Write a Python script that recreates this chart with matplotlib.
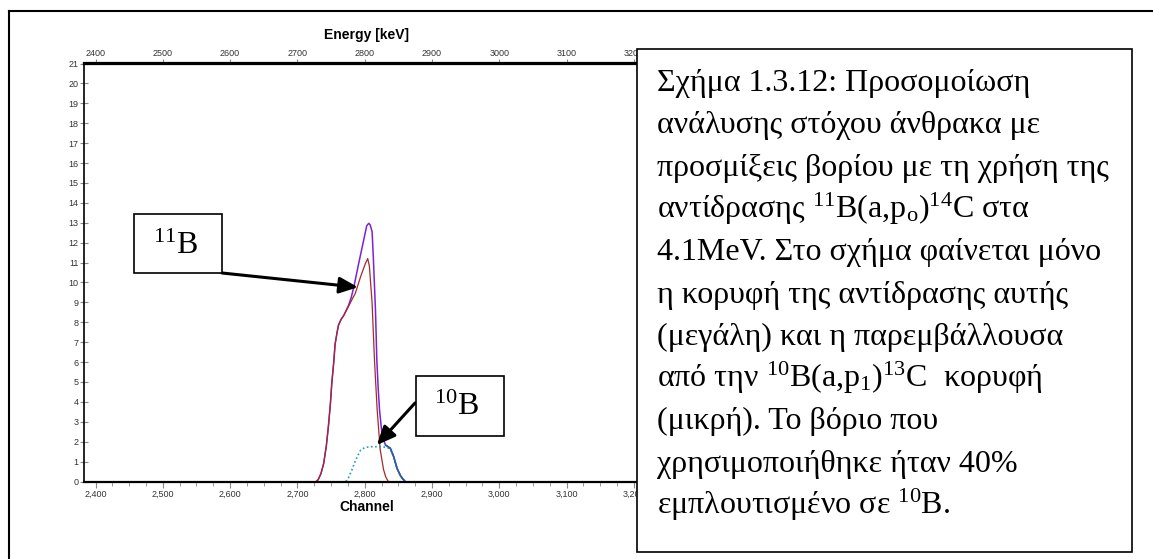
import matplotlib
matplotlib.use("Agg")
import matplotlib.pyplot as plt
from matplotlib.patches import Rectangle
from matplotlib.lines import Line2D
from matplotlib.ticker import MultipleLocator, FuncFormatter

plt.rcParams["font.family"] = ["Liberation Sans Narrow", "Liberation Sans", "DejaVu Sans"]
plt.rcParams["mathtext.fontset"] = "custom"
plt.rcParams["mathtext.rm"] = "Liberation Serif"
plt.rcParams["mathtext.it"] = "Liberation Serif:italic"
plt.rcParams["mathtext.bf"] = "Liberation Serif:bold"

# simulated spectrum (channel, counts)
total_ch = [2728, 2731, 2735, 2739, 2743, 2746, 2749, 2751, 2754, 2756, 2759, 2761, 2765, 2769,
            2776, 2780, 2784, 2791, 2798, 2803, 2806, 2808, 2811, 2813, 2816, 2818, 2820,
            2822, 2826, 2831, 2838, 2843, 2848, 2853, 2856, 2859]
total_cnt = [0.0, 0.1, 0.4, 0.9, 1.8, 2.75, 3.9, 4.9, 6.0, 6.9, 7.5, 7.85, 8.15, 8.35,
             8.85, 9.25, 9.8, 10.95, 12.05, 12.85, 12.97, 12.9, 12.55, 11.1, 8.6, 6.1, 4.7,
             3.6, 2.25, 1.83, 1.67, 1.25, 0.66, 0.3, 0.15, 0.05]

b11_ch = [2728, 2731, 2735, 2739, 2743, 2746, 2749, 2751, 2754, 2756, 2759, 2761, 2765, 2769,
          2776, 2782, 2786, 2794, 2801, 2804.5, 2807, 2811, 2814.5, 2818.5, 2823, 2828, 2831, 2835]
b11_cnt = [0.0, 0.1, 0.4, 0.9, 1.8, 2.75, 3.9, 4.9, 6.0, 6.9, 7.5, 7.85, 8.15, 8.35,
           8.8, 9.2, 9.45, 10.3, 10.95, 11.2, 10.8, 8.95, 6.1, 3.6, 1.6, 0.6, 0.25, 0.0]

b10_ch = [2772, 2776, 2781, 2785, 2789, 2794, 2800, 2806, 2812, 2818, 2825, 2831, 2838,
          2843, 2848, 2853, 2859]
b10_cnt = [0.0, 0.2, 0.58, 0.95, 1.25, 1.58, 1.7, 1.74, 1.75, 1.75, 1.74, 1.72, 1.65,
           1.25, 0.66, 0.3, 0.05]

tail_start = 2831

caption_lines = [
    "Σχήμα 1.3.12: Προσομοίωση",
    "ανάλυσης στόχου άνθρακα με",
    "προσμίξεις βορίου με τη χρήση της",
    "αντίδρασης $^{11}$B(a,p$_{\\mathrm{o}}$)$^{14}$C στα",
    "4.1MeV. Στο σχήμα φαίνεται μόνο",
    "η κορυφή της αντίδρασης αυτής",
    "(μεγάλη) και η παρεμβάλλουσα",
    "από την $^{10}$B(a,p$_{1}$)$^{13}$C  κορυφή",
    "(μικρή). Το βόριο που",
    "χρησιμοποιήθηκε ήταν 40%",
    "εμπλουτισμένο σε $^{10}$B.",
]

W, H = 1153, 559


def fx(x):
    return x / W


def fy(y):
    return 1 - y / H


fig = plt.figure(figsize=(W / 100, H / 100), dpi=100)
ax = fig.add_axes([fx(84), fy(481.5), fx(650) - fx(84), fy(63.5) - fy(481.5)])

ax.plot(total_ch, total_cnt, color="#7B22D8", lw=1.1)
ax.plot(b11_ch, b11_cnt, color="#A52A2A", lw=0.9)
ax.plot(b10_ch, b10_cnt, color="#22A0A8", lw=1.2, ls=(0, (1, 1.5)))
tail_ch = [c for c in total_ch if c >= tail_start]
tail_cnt = [v for c, v in zip(total_ch, total_cnt) if c >= tail_start]
ax.plot(tail_ch, tail_cnt, color="#2C5FA0", lw=1.2)

ax.set_xlim(2382.9, 3223.9)
ax.set_ylim(0, 21)

ax.spines["right"].set_visible(False)
ax.spines["left"].set_linewidth(1.2)
ax.spines["bottom"].set_linewidth(1.6)
ax.spines["top"].set_linewidth(1.6)

ax.yaxis.set_major_locator(MultipleLocator(1))
ax.tick_params(axis="y", direction="inout", length=6, width=0.8, color="#888888",
               labelsize=6.5, labelcolor="#333333", pad=1)
ax.xaxis.set_major_locator(MultipleLocator(100))
ax.xaxis.set_minor_locator(MultipleLocator(25))
ax.xaxis.set_major_formatter(FuncFormatter(lambda v, p: f"{v:,.0f}"))
ax.tick_params(axis="x", which="major", direction="out", length=4, width=0.8,
               color="#888888", labelsize=6.5, labelcolor="#333333", pad=2)
ax.tick_params(axis="x", which="minor", direction="out", length=3, width=0.6, color="#888888")
ax.set_xlabel("Channel", fontsize=10, fontweight="bold", labelpad=1)

top = ax.secondary_xaxis("top", functions=(lambda v: v, lambda v: v))
top.xaxis.set_major_locator(MultipleLocator(100))
top.xaxis.set_major_formatter(FuncFormatter(lambda v, p: f"{v:.0f}"))
top.tick_params(direction="out", length=3, width=0.8, color="#888888",
                labelsize=6.5, labelcolor="#333333", pad=1)
top.spines["top"].set_linewidth(1.6)
top.set_xlabel("Energy [keV]", fontsize=10, fontweight="bold", labelpad=7)

# outer frame
fig.add_artist(Line2D([fx(9), fx(9)], [0, fy(11)], color="black", lw=1.5))
fig.add_artist(Line2D([fx(9), 1], [fy(11), fy(11)], color="black", lw=1.5))

# label boxes with arrows
for (x0, y0, x1, y1), label, tx, ty in [((134, 214, 222, 273), "$^{11}$B", 176, 254),
                                         ((416, 376, 504, 436), "$^{10}$B", 457, 415)]:
    fig.add_artist(Rectangle((fx(x0), fy(y1)), fx(x1) - fx(x0), fy(y0) - fy(y1),
                             transform=fig.transFigure, facecolor="white",
                             edgecolor="black", lw=1.2, zorder=3))
    fig.text(fx(tx), fy(ty), label, ha="center", va="baseline", fontsize=23,
             family="Liberation Serif", zorder=4)

arrow = dict(arrowstyle="-|>,head_length=0.8,head_width=0.35", color="black",
             lw=2.2, mutation_scale=14, shrinkA=0, shrinkB=0)
ax.annotate("", xy=(2790, 9.76), xycoords="data",
            xytext=(fx(222), fy(273)), textcoords="figure fraction", arrowprops=arrow)
ax.annotate("", xy=(2818, 1.83), xycoords="data",
            xytext=(fx(415), fy(403)), textcoords="figure fraction", arrowprops=arrow)

# caption box
fig.add_artist(Rectangle((fx(637), fy(552)), fx(1132) - fx(637), fy(49) - fy(552),
                         transform=fig.transFigure, facecolor="white",
                         edgecolor="black", lw=1.2, zorder=5))
for i, line in enumerate(caption_lines):
    fig.text(fx(657), fy(91 + 42.3 * i), line, ha="left", va="baseline", fontsize=23,
             family="Liberation Serif", zorder=6)

fig.savefig("out.png", dpi=100)
